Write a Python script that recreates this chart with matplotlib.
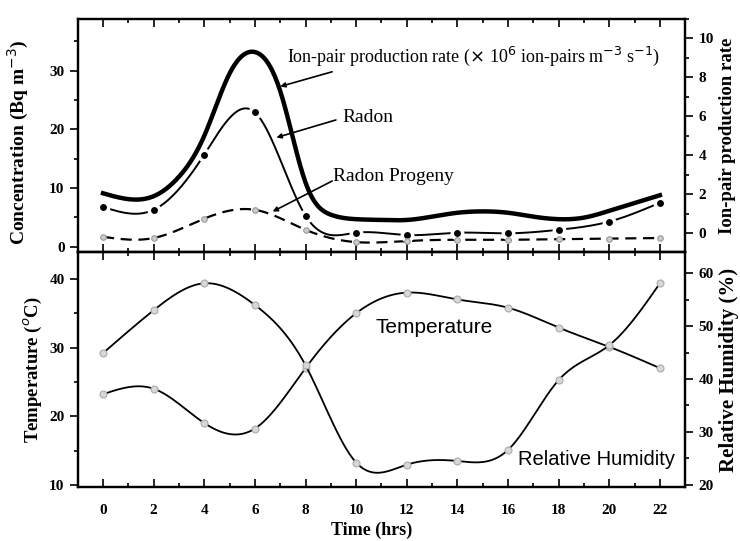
import numpy as np
import matplotlib
matplotlib.use("Agg")
import matplotlib.pyplot as plt
from matplotlib.ticker import MultipleLocator

# hours of the day
hours = [0, 2, 4, 6, 8, 10, 12, 14, 16, 18, 20, 22]

# top panel
radon = [6.8, 6.3, 15.7, 22.9, 5.3, 2.4, 2.0, 2.4, 2.3, 2.9, 4.3, 7.5]
progeny = [1.7, 1.5, 4.8, 6.3, 2.9, 0.8, 1.0, 1.2, 1.2, 1.3, 1.4, 1.5]
# ion-pair rate has no markers, read off hourly
ion_hours = list(range(23))
ion_rate = [2.05, 1.75, 1.9, 2.9, 5.0, 8.2, 9.3, 7.3, 2.6, 0.95, 0.72, 0.68,
            0.68, 0.85, 1.05, 1.12, 1.05, 0.85, 0.72, 0.8, 1.15, 1.55, 1.95]

# bottom panel
temperature = [23.2, 24.0, 19.0, 18.2, 27.0, 35.0, 38.0, 37.0, 35.8, 32.9, 30.1, 27.0]
humidity = [44.9, 53.0, 58.1, 54.0, 42.6, 24.2, 23.8, 24.5, 26.6, 39.8, 46.4, 58.1]

SERIF = "Liberation Serif"
SANS = "Liberation Sans"


def smooth(x, y, n=400):
    # natural cubic spline through the points, only for drawing
    x = np.asarray(x, float)
    y = np.asarray(y, float)
    k = len(x)
    h = np.diff(x)
    A = np.zeros((k, k))
    b = np.zeros(k)
    A[0, 0] = A[-1, -1] = 1
    for i in range(1, k - 1):
        A[i, i - 1] = h[i - 1]
        A[i, i] = 2 * (h[i - 1] + h[i])
        A[i, i + 1] = h[i]
        b[i] = 6 * ((y[i + 1] - y[i]) / h[i] - (y[i] - y[i - 1]) / h[i - 1])
    m = np.linalg.solve(A, b)
    xs = np.linspace(x[0], x[-1], n)
    idx = np.clip(np.searchsorted(x, xs) - 1, 0, k - 2)
    x0, x1 = x[idx], x[idx + 1]
    hh = x1 - x0
    t0, t1 = x1 - xs, xs - x0
    ys = (m[idx] * t0 ** 3 + m[idx + 1] * t1 ** 3) / (6 * hh) \
        + (y[idx] / hh - m[idx] * hh / 6) * t0 + (y[idx + 1] / hh - m[idx + 1] * hh / 6) * t1
    return xs, ys


def style_axis(ax):
    for s in ax.spines.values():
        s.set_linewidth(1.6)
    ax.tick_params(which="both", labelsize=11, width=1.2)
    ax.tick_params(which="major", length=6)
    ax.tick_params(which="minor", length=3)
    for lab in ax.get_xticklabels() + ax.get_yticklabels():
        lab.set_fontfamily(SERIF)
        lab.set_fontweight("bold")


fig = plt.figure(figsize=(7.4, 5.41), dpi=100)
ax1 = fig.add_axes([0.105, 0.534, 0.821, 0.431])
ax2 = fig.add_axes([0.105, 0.100, 0.821, 0.434], sharex=ax1)
ax1r = ax1.twinx()
ax2r = ax2.twinx()

# ---- top panel
xs, ys = smooth(ion_hours, ion_rate)
ax1r.plot(xs, ys, color="black", lw=3.2, zorder=3)
xs, ys = smooth(hours, radon)
ax1.plot(xs, ys, color="black", lw=1.4, zorder=3)
ax1.plot(hours, radon, "o", color="black", ms=7.5, mec="white", mew=2.5, zorder=4)
xs, ys = smooth(hours, progeny)
ax1.plot(xs, ys, color="black", lw=1.6, ls=(0, (5, 3)), zorder=3)
ax1.plot(hours, progeny, "o", color="#cccccc", ms=4, mec="#999999", mew=0.8, zorder=4)

ax1.set_xlim(-1, 23)
ax1.set_ylim(-0.9, 38.8)
ax1r.set_ylim(-0.97, 11.0)
ax1.yaxis.set_major_locator(MultipleLocator(10))
ax1.yaxis.set_minor_locator(MultipleLocator(5))
ax1r.yaxis.set_major_locator(MultipleLocator(2))
ax1r.yaxis.set_minor_locator(MultipleLocator(1))
ax1.xaxis.set_major_locator(MultipleLocator(2))
ax1.xaxis.set_minor_locator(MultipleLocator(1))
ax1.tick_params(axis="x", which="both", direction="in", top=True, labelbottom=False)
ax1.tick_params(axis="y", which="both", direction="out")
ax1r.tick_params(axis="y", which="both", direction="out")
ax1.set_ylabel("Concentration (Bq m$^{-3}$)", family=SERIF, fontsize=14, fontweight="bold")
ax1.yaxis.set_label_coords(-0.077, 0.47)
ax1r.set_ylabel("Ion-pair production rate", family=SERIF, fontsize=13.5, fontweight="bold")

arrow = dict(arrowstyle="-|>", color="black", lw=1.2, mutation_scale=7, shrinkA=0, shrinkB=0)
ax1.text(7.27, 32.4, "Ion-pair production rate ($\\times$ 10$^{6}$ ion-pairs m$^{-3}$ s$^{-1}$)",
         family=SERIF, fontsize=13, va="center", ha="left")
ax1.annotate("", xy=(7.0, 27.3), xytext=(9.05, 29.8), arrowprops=arrow)
ax1.text(9.45, 22.1, "Radon", family=SERIF, fontsize=14, va="center", ha="left")
ax1.annotate("", xy=(6.85, 18.6), xytext=(9.2, 21.6), arrowprops=arrow)
ax1.text(9.1, 11.9, "Radon Progeny", family=SERIF, fontsize=14, va="center", ha="left")
ax1.annotate("", xy=(6.7, 6.0), xytext=(9.05, 11.2), arrowprops=arrow)

# ---- bottom panel
xs, ys = smooth(hours, temperature)
ax2.plot(xs, ys, color="black", lw=1.3, zorder=3)
ax2.plot(hours, temperature, "o", color="#d8d8d8", ms=5, mec="#aaaaaa", mew=0.8, zorder=4)
xs, ys = smooth(hours, humidity)
ax2r.plot(xs, ys, color="black", lw=1.3, zorder=3)
ax2r.plot(hours, humidity, "o", color="#d8d8d8", ms=5, mec="#aaaaaa", mew=0.8, zorder=4)

ax2.set_ylim(9.7, 43.9)
ax2r.set_ylim(19.6, 64.0)
ax2.yaxis.set_major_locator(MultipleLocator(10))
ax2.yaxis.set_minor_locator(MultipleLocator(5))
ax2r.yaxis.set_major_locator(MultipleLocator(10))
ax2r.yaxis.set_minor_locator(MultipleLocator(5))
ax2.tick_params(axis="x", which="both", direction="in", top=True, pad=12)
ax2.tick_params(axis="y", which="both", direction="out")
ax2r.tick_params(axis="y", which="both", direction="out")
ax2.set_xticks(hours)
ax2.set_xlabel("Time (hrs)", family=SERIF, fontsize=13, fontweight="bold")
ax2.xaxis.set_label_coords(0.484, -0.15)
ax2.set_ylabel("Temperature ($^{o}$C)", family=SERIF, fontsize=13.5, fontweight="bold")
ax2r.set_ylabel("Relative Humidity (%)", family=SERIF, fontsize=15, fontweight="bold")

ax2.text(10.75, 32.9, "Temperature", family=SANS, fontsize=15, va="center", ha="left")
ax2r.text(16.4, 24.7, "Relative Humidity", family=SANS, fontsize=14.5, va="center", ha="left")

for a in (ax1, ax1r, ax2, ax2r):
    style_axis(a)

fig.savefig("out.png", dpi=100)
